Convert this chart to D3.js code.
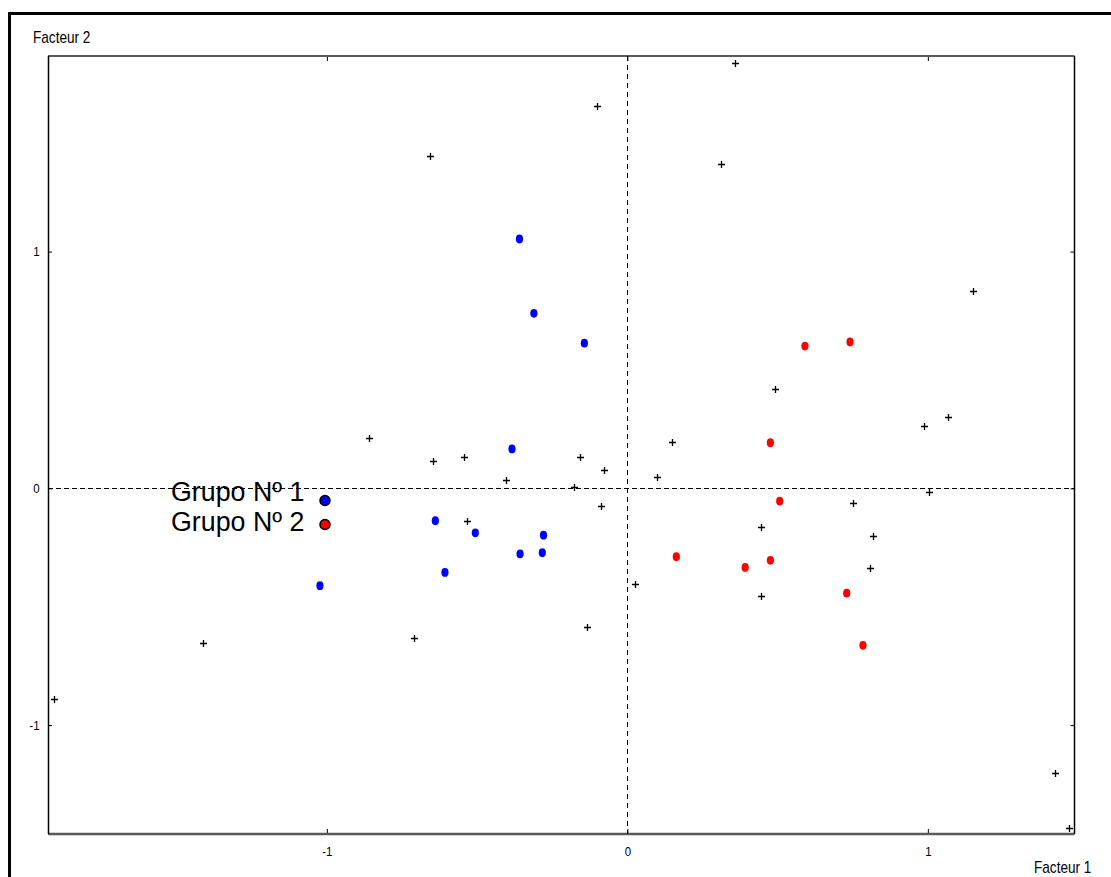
<!DOCTYPE html>
<html>
<head>
<meta charset="utf-8">
<script src="https://cdn.jsdelivr.net/npm/d3@7"></script>
<style>
  body { margin: 0; background: #fff; }
  svg { display: block; }
  text { font-family: "Liberation Sans", Arial, sans-serif; fill: #000; }
</style>
</head>
<body>
<div id="graph" style="width:1111px;height:877px"></div>
<script>
// individual points (black crosses)
var crossX = [-1.909, -1.413, -0.860, -0.647, -0.656, -0.709, -0.543, -0.533, -0.404, -0.159, -0.177,
              -0.077, -0.088, -0.102, -0.134, 0.025, 0.099, 0.150, 0.312, 0.358, 0.491, 0.445,
              0.445, 0.750, 0.818, 0.807, 0.988, 1.067, 1.005, 1.149, 1.423, 1.469];
var crossY = [-0.890, -0.655, 0.212, 0.117, 1.403, -0.632, 0.133, -0.139, 0.034, 0.133, 0.004,
              0.077, -0.075, 1.614, -0.587, -0.403, 0.049, 0.196, 1.370, 1.795, 0.419, -0.162,
              -0.454, -0.061, -0.201, -0.335, 0.262, 0.301, -0.016, 0.833, -1.201, -1.436];

// Grupo Nº 1 (blue)
var group1X = [-0.359, -0.311, -0.143, -0.384, -0.639, -0.506, -0.279, -0.357, -0.283, -0.607, -1.023];
var group1Y = [1.053, 0.739, 0.613, 0.166, -0.137, -0.188, -0.198, -0.277, -0.272, -0.355, -0.411];

// Grupo Nº 2 (red)
var group2X = [0.591, 0.741, 0.476, 0.507, 0.163, 0.392, 0.476, 0.730, 0.784];
var group2Y = [0.601, 0.618, 0.193, -0.054, -0.289, -0.334, -0.304, -0.443, -0.663];

var xTicks = [-1, 0, 1];
var yTicks = [-1, 0, 1];
var legendLabels = ["Grupo Nº 1", "Grupo Nº 2"];
var groupColors = ["#0000ff", "#ff0000"];
var xTitle = "Facteur 1";
var yTitle = "Facteur 2";

var width = 1111, height = 877;
var margin = { top: 56, left: 48, bottom: 43, right: 36.5 };
var chartWidth = width - (margin.left + margin.right);
var chartHeight = height - (margin.top + margin.bottom);

var svg = d3.select("#graph").append("svg").attr("width", width).attr("height", height);
var axisLayer = svg.append("g").classed("axisLayer", true);
var chartLayer = svg.append("g").classed("chartLayer", true)
  .attr("transform", "translate(" + [margin.left, margin.top] + ")");

var xScale = d3.scaleLinear().domain([-1.928, 1.488]).range([0, chartWidth]);
var yScale = d3.scaleLinear().domain([-1.460, 1.826]).range([chartHeight, 0]);

var zip = function(xs, ys) {
  return xs.map(function(x, i) { return { x: x, y: ys[i] }; });
};

renderFrame();
renderAxis();
renderChart();
renderLegend();

function renderFrame() {
  // outer window border
  svg.append("path")
    .attr("d", "M9.5," + height + "V13.5H" + width)
    .attr("fill", "none")
    .attr("stroke", "#000")
    .attr("stroke-width", 3);

  // plot box
  chartLayer.append("line")
    .attr("x1", 0).attr("x2", chartWidth).attr("y1", 0).attr("y2", 0)
    .attr("stroke", "#5a5a5a").attr("stroke-width", 2.2);
  chartLayer.append("line")
    .attr("x1", 0).attr("x2", chartWidth).attr("y1", chartHeight).attr("y2", chartHeight)
    .attr("stroke", "#5a5a5a").attr("stroke-width", 2.6);
  chartLayer.append("line")
    .attr("x1", 0.5).attr("x2", 0.5).attr("y1", 0).attr("y2", chartHeight)
    .attr("stroke", "#000").attr("stroke-width", 1.5);
  chartLayer.append("line")
    .attr("x1", chartWidth).attr("x2", chartWidth).attr("y1", 0).attr("y2", chartHeight)
    .attr("stroke", "#000").attr("stroke-width", 1.5);
}

function styleAxis(g) {
  g.select(".domain").remove();
  g.attr("font-family", null).attr("font-size", 13.5);
  g.selectAll("line").attr("stroke", "#000");
  g.selectAll("text").attr("transform", "scale(0.85,1)");
}

function renderAxis() {
  var fmt = function(d) { return String(d); };

  axisLayer.append("g")
    .attr("transform", "translate(" + [margin.left, margin.top + chartHeight] + ")")
    .call(d3.axisBottom(xScale).tickValues(xTicks).tickSize(-5).tickPadding(12).tickFormat(fmt))
    .call(styleAxis);

  axisLayer.append("g")
    .attr("transform", "translate(" + [margin.left, margin.top] + ")")
    .call(d3.axisTop(xScale).tickValues(xTicks).tickSize(-5).tickFormat(""))
    .call(styleAxis);

  axisLayer.append("g")
    .attr("transform", "translate(" + [margin.left, margin.top] + ")")
    .call(d3.axisLeft(yScale).tickValues(yTicks).tickSize(-4).tickPadding(10).tickFormat(fmt))
    .call(styleAxis);

  axisLayer.append("g")
    .attr("transform", "translate(" + [margin.left + chartWidth, margin.top] + ")")
    .call(d3.axisRight(yScale).tickValues(yTicks).tickSize(-4).tickFormat(""))
    .call(styleAxis);

  axisLayer.append("text")
    .attr("transform", "translate(33,42.5) scale(0.85,1)")
    .attr("font-size", 16)
    .text(yTitle);

  axisLayer.append("text")
    .attr("transform", "translate(1034,873) scale(0.85,1)")
    .attr("font-size", 16)
    .text(xTitle);
}

function renderChart() {
  // dashed zero lines
  chartLayer.append("line")
    .attr("x1", Math.round(xScale(0)) + 0.5).attr("x2", Math.round(xScale(0)) + 0.5)
    .attr("y1", 0).attr("y2", chartHeight)
    .attr("stroke", "#000").attr("stroke-dasharray", "5,4");
  chartLayer.append("line")
    .attr("x1", 0).attr("x2", chartWidth)
    .attr("y1", Math.round(yScale(0)) + 0.5).attr("y2", Math.round(yScale(0)) + 0.5)
    .attr("stroke", "#000").attr("stroke-dasharray", "5,3");

  chartLayer.selectAll(".cross")
    .data(zip(crossX, crossY))
    .enter()
    .append("path")
    .classed("cross", true)
    .attr("d", "M-3.5,0H3.5M0,-3.5V3.5")
    .attr("stroke", "#000")
    .attr("stroke-width", 1.3)
    .attr("fill", "none")
    .attr("transform", function(d) {
      return "translate(" + [Math.round(xScale(d.x)) + 0.5, Math.round(yScale(d.y)) + 0.5] + ")";
    });

  [zip(group1X, group1Y), zip(group2X, group2Y)].forEach(function(pts, i) {
    chartLayer.selectAll(".grp" + i)
      .data(pts)
      .enter()
      .append("ellipse")
      .classed("grp" + i, true)
      .attr("cx", function(d) { return xScale(d.x); })
      .attr("cy", function(d) { return yScale(d.y); })
      .attr("rx", 3.6)
      .attr("ry", 4.4)
      .attr("fill", groupColors[i]);
  });
}

function renderLegend() {
  var legend = svg.append("g").attr("transform", "translate(171,501)");
  var item = legend.selectAll(".item")
    .data(legendLabels)
    .enter()
    .append("g")
    .classed("item", true)
    .attr("transform", function(d, i) { return "translate(0," + i * 29.5 + ")"; });

  item.append("text")
    .attr("font-size", 26.8)
    .text(function(d) { return d; });

  item.append("circle")
    .attr("cx", 154)
    .attr("cy", function(d, i) { return -0.5 - i * 5.5; })
    .attr("r", 5)
    .attr("fill", function(d, i) { return groupColors[i]; })
    .attr("stroke", "#000")
    .attr("stroke-width", 1.5);
}
</script>
</body>
</html>
